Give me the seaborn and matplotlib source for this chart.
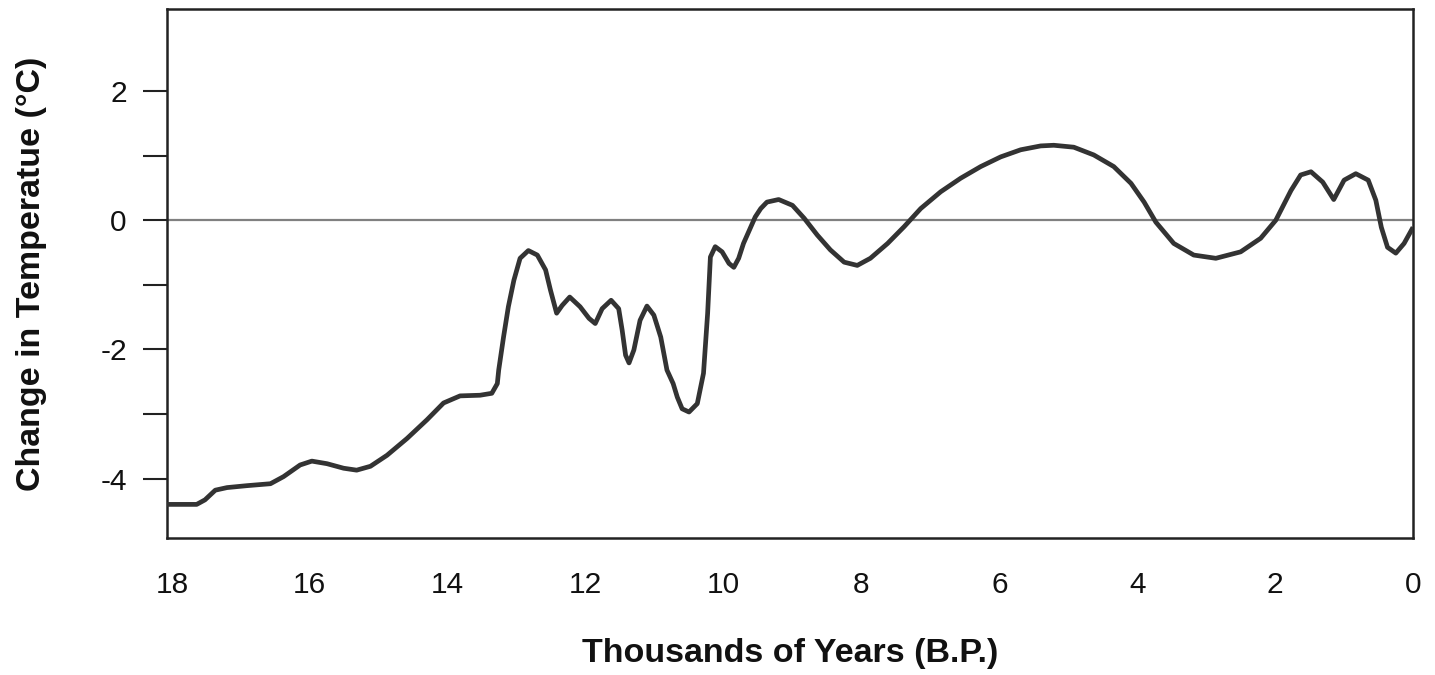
import matplotlib
matplotlib.use("Agg")
import matplotlib.pyplot as plt
from matplotlib.ticker import FixedLocator
import seaborn as sns
import pandas as pd

# Thousands of years before present
years_bp = [18.07, 17.64, 17.52, 17.37, 17.20, 16.91, 16.57, 16.38, 16.14, 15.97,
            15.75, 15.51, 15.32, 15.12, 14.88, 14.59, 14.30, 14.06, 13.82, 13.53,
            13.36, 13.28, 13.26, 13.19, 13.12, 13.04, 12.95, 12.83, 12.70, 12.58,
            12.51, 12.42, 12.34, 12.23, 12.08, 11.95, 11.86, 11.76, 11.63, 11.52,
            11.47, 11.42, 11.37, 11.30, 11.21, 11.11, 11.01, 10.91, 10.82, 10.73,
            10.67, 10.60, 10.50, 10.38, 10.29, 10.23, 10.19, 10.12, 10.02, 9.92,
            9.85, 9.78, 9.71, 9.54, 9.46, 9.37, 9.20, 9.00, 8.83, 8.64,
            8.45, 8.25, 8.06, 7.87, 7.62, 7.38, 7.14, 6.85, 6.56, 6.27,
            5.98, 5.69, 5.40, 5.21, 4.92, 4.63, 4.34, 4.09, 3.90, 3.73,
            3.47, 3.18, 2.86, 2.50, 2.21, 1.99, 1.77, 1.63, 1.48, 1.31,
            1.15, 1.00, 0.83, 0.65, 0.54, 0.46, 0.37, 0.25, 0.13, 0.00]
# Change in temperature (deg C)
temp_change = [-4.40, -4.40, -4.33, -4.18, -4.14, -4.11, -4.08, -3.97, -3.79, -3.73,
               -3.77, -3.84, -3.87, -3.81, -3.64, -3.38, -3.09, -2.83, -2.72, -2.71,
               -2.68, -2.53, -2.32, -1.81, -1.34, -0.93, -0.59, -0.47, -0.54, -0.77,
               -1.08, -1.44, -1.32, -1.19, -1.34, -1.52, -1.60, -1.37, -1.24, -1.37,
               -1.70, -2.09, -2.21, -2.01, -1.55, -1.33, -1.47, -1.81, -2.32, -2.53,
               -2.74, -2.92, -2.97, -2.84, -2.37, -1.44, -0.57, -0.41, -0.49, -0.67,
               -0.73, -0.59, -0.36, 0.05, 0.18, 0.28, 0.32, 0.23, 0.03, -0.23,
               -0.46, -0.65, -0.70, -0.59, -0.36, -0.10, 0.18, 0.44, 0.65, 0.83,
               0.98, 1.09, 1.15, 1.16, 1.13, 1.01, 0.83, 0.57, 0.28, -0.03,
               -0.36, -0.54, -0.59, -0.49, -0.28, 0.00, 0.46, 0.70, 0.75, 0.59,
               0.32, 0.62, 0.72, 0.62, 0.31, -0.11, -0.42, -0.51, -0.36, -0.11]

x_ticks = [18, 16, 14, 12, 10, 8, 6, 4, 2, 0]
y_ticks = [-4, -2, 0, 2]
y_minor = [-3, -1, 1]
x_label = "Thousands of Years (B.P.)"
y_label = "Change in Temperatue (°C)"

df = pd.DataFrame({"years": years_bp, "temp": temp_change})

sns.set_style("white")
plt.rcParams["font.family"] = ["Liberation Sans", "DejaVu Sans"]

fig = plt.figure(figsize=(14.35, 6.75), dpi=100)
ax = fig.add_axes([0.1164, 0.2030, 0.9847 - 0.1164, 0.9867 - 0.2030])

ax.axhline(0, color="#808080", lw=1.6, zorder=1)
sns.lineplot(data=df, x="years", y="temp", ax=ax, color="#333333", lw=3.4,
             solid_joinstyle="round", solid_capstyle="butt", zorder=3, sort=False)

ax.set_xlim(18.07, 0)
ax.set_ylim(-4.92, 3.27)

ax.xaxis.set_major_locator(FixedLocator(x_ticks))
ax.yaxis.set_major_locator(FixedLocator(y_ticks))
ax.yaxis.set_minor_locator(FixedLocator(y_minor))
ax.set_xticklabels([str(t) for t in x_ticks])
ax.set_yticklabels([str(t) for t in y_ticks])

ax.tick_params(axis="x", length=0, pad=24, labelsize=21.5, labelcolor="#111111")
ax.tick_params(axis="y", which="both", left=True, length=17, width=1.5,
               color="#222222", pad=12, labelsize=21.5, labelcolor="#111111")

for s in ax.spines.values():
    s.set_visible(True)
    s.set_color("#222222")
    s.set_linewidth(1.8)

ax.set_xlabel(x_label, fontsize=24.5, fontweight="bold", labelpad=28, color="#111111")
ax.set_ylabel(y_label, fontsize=24.5, fontweight="bold", labelpad=34, color="#111111")
ax.yaxis.set_label_coords(-0.096, 0.5)

fig.savefig("out.png", dpi=100, facecolor="white")
